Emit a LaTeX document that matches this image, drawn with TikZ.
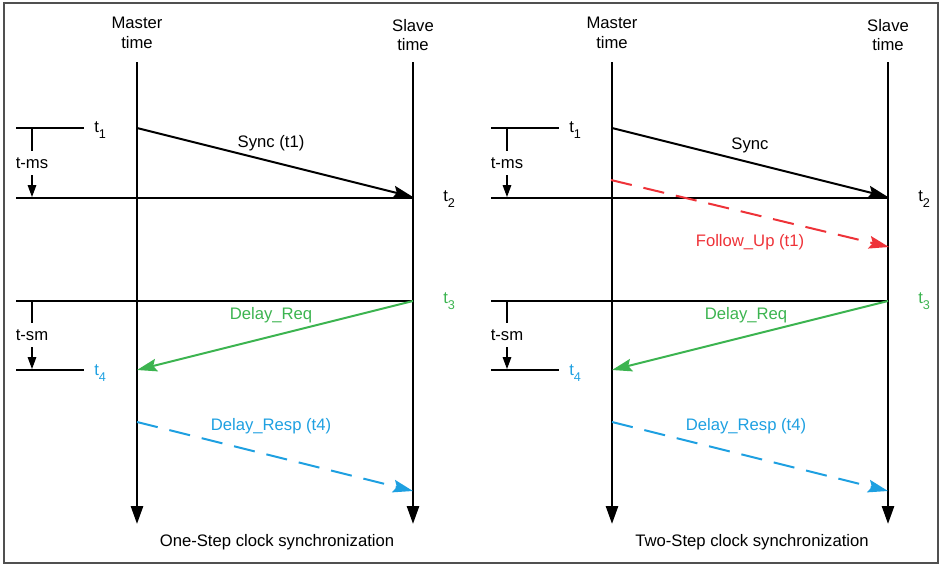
\documentclass[tikz,border=0pt]{standalone}
\usepackage{fontspec}
\setmainfont{Liberation Sans}
\usetikzlibrary{arrows.meta}
\definecolor{cgreen}{RGB}{60,180,80}
\definecolor{cblue}{RGB}{30,160,225}
\definecolor{cred}{RGB}{238,50,56}
\definecolor{cframe}{RGB}{80,80,80}
\newcommand{\tsub}[1]{t\raisebox{-0.32em}{\fontsize{9.5}{10}\selectfont #1}}
\tikzset{
  txt/.style={inner sep=0pt, font=\fontsize{12.5}{14.5}\selectfont, align=center},
  timeline/.style={line width=2pt, -{Triangle[length=13.5pt,width=9pt]}},
  msg/.style={line width=1.5pt, -{Stealth[length=15pt,width=9.5pt,inset=2.5pt]}},
  dashmsg/.style={msg, dash pattern=on 16pt off 9pt},
  thin/.style={line width=0.8pt},
  tick/.style={line width=0.8pt, -{Triangle[length=9pt,width=6.5pt]}},
}
\begin{document}
\begin{tikzpicture}[x=0.75pt,y=-0.75pt]
\useasboundingbox (0,0) rectangle (941,565);
\draw[cframe, line width=0.9pt] (4,3) rectangle (938,563);
\foreach \o/\pre/\cap in {0/L/One-Step clock synchronization, 475/R/Two-Step clock synchronization}{
\begin{scope}[xshift=\o*0.75pt]
\coordinate (\pre mtop) at (137,62);
\coordinate (\pre mbot) at (137,524);
\coordinate (\pre stop) at (413,62);
\coordinate (\pre sbot) at (413,524);
\node[txt] (\pre mlab) at (137,33) {Master\\time};
\node[txt] (\pre slab) at (413,35) {Slave\\time};
\draw[timeline] (\pre mtop) -- (\pre mbot);
\draw[timeline] (\pre stop) -- (\pre sbot);
% t1 / t-ms
\coordinate (\pre aL) at (16,128);
\coordinate (\pre aR) at (84,128);
\draw[thin] (\pre aL) -- (\pre aR);
\node[txt, anchor=west] (\pre t1) at (94,130) {\tsub{1}};
\coordinate (\pre ta) at (32,128);
\coordinate (\pre tb) at (32,151);
\draw[thin] (\pre ta) -- (\pre tb);
\node[txt] (\pre tms) at (32,163) {t-ms};
\coordinate (\pre tc) at (32,175);
\coordinate (\pre td) at (32,197);
\draw[tick] (\pre tc) -- (\pre td);
\coordinate (\pre bL) at (16,198);
\coordinate (\pre bR) at (413,198);
\draw[thin] (\pre bL) -- (\pre bR);
\node[txt, anchor=west] (\pre t2) at (443,199) {\tsub{2}};
% t3 / t-sm
\coordinate (\pre cL) at (16,301);
\coordinate (\pre cR) at (413,301);
\draw[thin] (\pre cL) -- (\pre cR);
\node[txt, anchor=west, text=cgreen] (\pre t3) at (443,301) {\tsub{3}};
\coordinate (\pre sa) at (32,301);
\coordinate (\pre sb) at (32,323);
\draw[thin] (\pre sa) -- (\pre sb);
\node[txt] (\pre tsm) at (32,335) {t-sm};
\coordinate (\pre sc) at (32,347);
\coordinate (\pre sd) at (32,369);
\draw[tick] (\pre sc) -- (\pre sd);
\coordinate (\pre dL) at (16,370);
\coordinate (\pre dR) at (84,370);
\draw[thin] (\pre dL) -- (\pre dR);
\node[txt, anchor=west, text=cblue] (\pre t4) at (94,373) {\tsub{4}};
% messages
\coordinate (\pre s1) at (137,128);
\coordinate (\pre s2) at (413,197);
\draw[msg] (\pre s1) -- (\pre s2);
\coordinate (\pre r1) at (413,301);
\coordinate (\pre r2) at (137,370);
\draw[msg, cgreen] (\pre r1) -- (\pre r2);
\node[txt, text=cgreen] (\pre reqlab) at (271,315) {Delay\_Req};
\coordinate (\pre p1) at (137,422);
\coordinate (\pre p2) at (413,491);
\draw[dashmsg, cblue] (\pre p1) -- (\pre p2);
\node[txt, text=cblue] (\pre resplab) at (271,426) {Delay\_Resp (t4)};
\node[txt] (\pre caption) at (277,542) {\cap};
\end{scope}
}
\node[txt] (Lsynclab) at (271,143) {Sync (t1)};
\node[txt] (Rsynclab) at (750,145) {Sync};
\coordinate (Rf1) at (611,180);
\coordinate (Rf2) at (889,247);
\draw[dashmsg, cred] (Rf1) -- (Rf2);
\node[txt, text=cred] (Rfollab) at (750,242) {Follow\_Up (t1)};
\end{tikzpicture}
\end{document}
